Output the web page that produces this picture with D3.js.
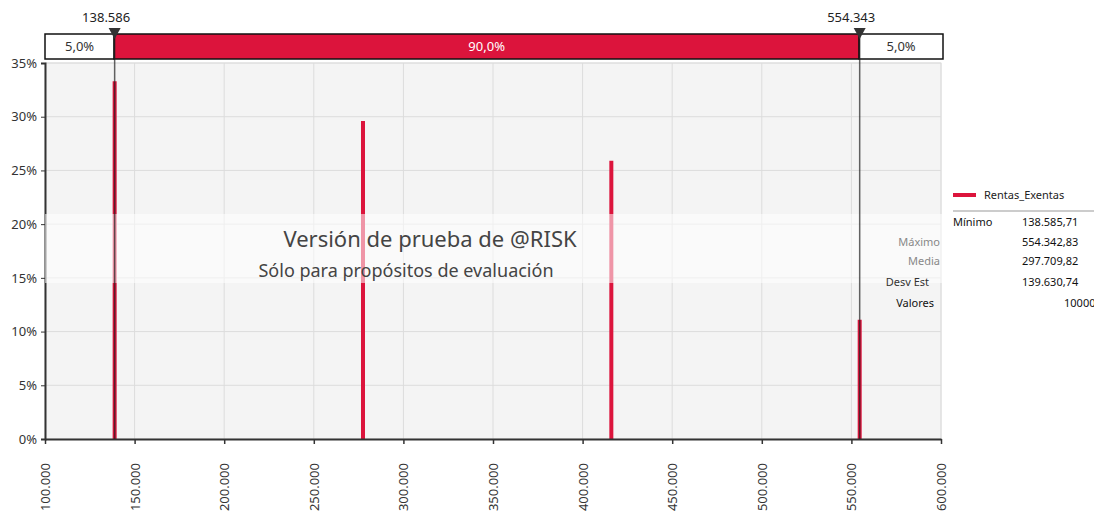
<!DOCTYPE html>
<html>
<head>
<meta charset="utf-8">
<script src="https://cdn.jsdelivr.net/npm/d3@7"></script>
<style>
  body { margin: 0; background: #fff; }
  text { font-family: "Noto Sans", sans-serif; }
</style>
</head>
<body>
<div id="chart"></div>
<script>
// data
var values = [138586, 277171, 415757, 554343];
var probs = [33.3, 29.6, 25.9, 11.1];
var xTicks = [100000, 150000, 200000, 250000, 300000, 350000, 400000, 450000, 500000, 550000, 600000];
var yTicks = [0, 5, 10, 15, 20, 25, 30, 35];
var markers = [138586, 554343];
var markerLabels = ["138.586", "554.343"];
var bandLabels = ["5,0%", "90,0%", "5,0%"];
var seriesName = "Rentas_Exentas";
var statNames = ["Mínimo", "Máximo", "Media", "Desv Est", "Valores"];
var statValues = ["138.585,71", "554.342,83", "297.709,82", "139.630,74", "10000"];

var width = 1094, height = 515;
var red = "#dc143c";

var svg = d3.select("#chart").append("svg")
    .attr("width", width)
    .attr("height", height);

var x = d3.scaleLinear().domain([100000, 600000]).range([45, 941]);
var y = d3.scaleLinear().domain([0, 35]).range([439, 63]);

var fmtX = function(d) { return d3.format(",")(d).replace(/,/g, "."); };

// plot background
svg.append("rect")
  .attr("x", x(100000)).attr("y", y(35))
  .attr("width", x(600000) - x(100000)).attr("height", y(0) - y(35))
  .attr("fill", "#f4f4f4")
  .attr("stroke", "#e2e2e2");

// grid
svg.append("g").selectAll("line")
  .data(xTicks.slice(1))
  .enter().append("line")
  .attr("x1", d => x(d)).attr("x2", d => x(d))
  .attr("y1", y(35)).attr("y2", y(0))
  .attr("stroke", "#dcdcdc");

svg.append("g").selectAll("line")
  .data(yTicks.slice(1))
  .enter().append("line")
  .attr("x1", x(100000)).attr("x2", x(600000))
  .attr("y1", d => y(d)).attr("y2", d => y(d))
  .attr("stroke", "#dcdcdc");

// bars
svg.append("g").selectAll("rect")
  .data(values)
  .enter().append("rect")
  .attr("x", d => x(d) - 1.5)
  .attr("width", 4)
  .attr("y", (d, i) => y(probs[i]))
  .attr("height", (d, i) => y(0) - y(probs[i]))
  .attr("fill", red);

// axes
var yAxis = d3.axisLeft(y).tickValues(yTicks).tickFormat(d => d + "%").tickSize(4);
var gy = svg.append("g").attr("transform", "translate(" + x(100000) + ",0)").call(yAxis);
gy.select(".domain").attr("stroke", "#333").attr("stroke-width", 2);
gy.selectAll(".tick line").attr("stroke", "#333");
gy.selectAll(".tick text").attr("font-size", 13).attr("fill", "#333").attr("dx", -1);

var xAxis = d3.axisBottom(x).tickValues(xTicks).tickFormat(fmtX).tickSize(5).tickSizeOuter(0);
var gx = svg.append("g").attr("transform", "translate(0," + y(0) + ")").call(xAxis);
gx.select(".domain").attr("stroke", "#333").attr("stroke-width", 2);
gx.selectAll(".tick line").attr("stroke", "#333").attr("stroke-width", 1.5);
gx.selectAll(".tick text")
  .attr("font-size", 13).attr("fill", "#333")
  .attr("transform", "rotate(-90)")
  .attr("text-anchor", "end")
  .attr("x", -24).attr("y", 0).attr("dy", "0.35em");

// watermark band
svg.append("rect")
  .attr("x", x(100000)).attr("y", 214)
  .attr("width", width - x(100000)).attr("height", 69)
  .attr("fill", "#fff").attr("opacity", 0.55);

svg.append("text")
  .attr("x", 430).attr("y", 247)
  .attr("text-anchor", "middle")
  .attr("font-size", 22).attr("fill", "#444")
  .text("Versión de prueba de @RISK");
svg.append("text")
  .attr("x", 406).attr("y", 277)
  .attr("text-anchor", "middle")
  .attr("font-size", 18).attr("fill", "#444")
  .text("Sólo para propósitos de evaluación");

// top probability band
var bandEdges = [x(100000), x(markers[0]), x(markers[1]), 943];
var band = svg.append("g");
band.selectAll("rect")
  .data(bandLabels)
  .enter().append("rect")
  .attr("x", (d, i) => bandEdges[i])
  .attr("y", 34)
  .attr("width", (d, i) => bandEdges[i + 1] - bandEdges[i])
  .attr("height", 25)
  .attr("fill", (d, i) => i == 1 ? red : "#fff")
  .attr("stroke", "#111").attr("stroke-width", 1.5);
band.selectAll("text")
  .data(bandLabels)
  .enter().append("text")
  .attr("x", (d, i) => (bandEdges[i] + bandEdges[i + 1]) / 2)
  .attr("y", 51)
  .attr("text-anchor", "middle")
  .attr("font-size", 13)
  .attr("fill", (d, i) => i == 1 ? "#fff" : "#333")
  .text(d => d);

// markers
var mk = svg.append("g").selectAll("g")
  .data(markers)
  .enter().append("g");
mk.append("line")
  .attr("x1", d => x(d) + 0.5).attr("x2", d => x(d) + 0.5)
  .attr("y1", 30).attr("y2", y(0))
  .attr("stroke", "#222").attr("stroke-width", 1.5).attr("opacity", 0.7);
mk.append("path")
  .attr("d", d => "M" + (x(d) - 5.5) + ",28L" + (x(d) + 6.5) + ",28L" + (x(d) + 0.5) + ",39Z")
  .attr("fill", "#333");
mk.append("text")
  .attr("x", d => x(d) - 8).attr("y", 22)
  .attr("text-anchor", "middle")
  .attr("font-size", 13).attr("fill", "#222")
  .text((d, i) => markerLabels[i]);

// legend
var lg = svg.append("g");
lg.append("line")
  .attr("x1", 953).attr("x2", 976).attr("y1", 195).attr("y2", 195)
  .attr("stroke", red).attr("stroke-width", 4);
lg.append("text")
  .attr("x", 984).attr("y", 199)
  .attr("font-size", 11).attr("fill", "#222")
  .text(seriesName);
lg.append("line")
  .attr("x1", 953).attr("x2", width).attr("y1", 211).attr("y2", 211)
  .attr("stroke", "#999");

// stats table (odd placement)
var statPos = [
  { x: 953, anchor: "start", fill: "#111" },
  { x: 940, anchor: "end", fill: "#888" },
  { x: 940, anchor: "end", fill: "#888" },
  { x: 929, anchor: "end", fill: "#333" },
  { x: 934, anchor: "end", fill: "#111" }
];
var statY = [222, 242, 261, 282, 303];
lg.selectAll(".sname")
  .data(statNames)
  .enter().append("text")
  .attr("class", "sname")
  .attr("x", (d, i) => statPos[i].x)
  .attr("y", (d, i) => statY[i] + 4)
  .attr("text-anchor", (d, i) => statPos[i].anchor)
  .attr("font-size", 11)
  .attr("fill", (d, i) => statPos[i].fill)
  .text(d => d);
lg.selectAll(".sval")
  .data(statValues)
  .enter().append("text")
  .attr("class", "sval")
  .attr("x", (d, i) => i == 4 ? 1064 : 1022)
  .attr("y", (d, i) => statY[i] + 4)
  .attr("font-size", 11).attr("fill", "#111")
  .text(d => d);
</script>
</body>
</html>
